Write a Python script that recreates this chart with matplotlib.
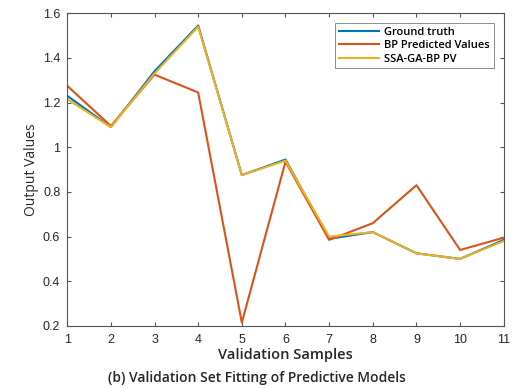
import matplotlib.pyplot as plt

## Validation set values
samples = [1, 2, 3, 4, 5, 6, 7, 8, 9, 10, 11]
ground_truth = [1.23, 1.09, 1.34, 1.545, 0.875, 0.945, 0.59, 0.62, 0.525, 0.50, 0.585]
bp_pred = [1.275, 1.095, 1.325, 1.245, 0.215, 0.935, 0.585, 0.66, 0.83, 0.54, 0.595]
ssa_pred = [1.215, 1.09, 1.33, 1.54, 0.875, 0.94, 0.60, 0.62, 0.525, 0.50, 0.58]

yticks = [0.2, 0.4, 0.6, 0.8, 1, 1.2, 1.4, 1.6]
ytick_labels = ["0.2", "0.4", "0.6", "0.8", "1", "1.2", "1.4", "1.6"]

plt.rcParams['font.family'] = ['Open Sans', 'DejaVu Sans']

fig = plt.figure(figsize=(5.13, 3.88), dpi=100)
ax = fig.add_axes([0.131, 0.160, 0.851, 0.806])

ax.plot(samples, ground_truth, color="#0072BD", linewidth=1.5, label="Ground truth")
ax.plot(samples, bp_pred, color="#D95319", linewidth=1.5, label="BP Predicted Values")
ax.plot(samples, ssa_pred, color="#EDB120", linewidth=1.5, label="SSA-GA-BP PV")

ax.set_xlim(1, 11)
ax.set_ylim(0.2, 1.6)
ax.set_xticks(samples)
ax.set_yticks(yticks)
ax.set_yticklabels(ytick_labels)
ax.tick_params(direction="in", top=True, right=True, labelsize=9, length=3,
               color="#555555", labelcolor="#262626")
ax.tick_params(axis="x", pad=6)
ax.tick_params(axis="y", pad=5)
for lbl in ax.get_xticklabels() + ax.get_yticklabels():
    lbl.set_family("Liberation Sans")
for s in ax.spines.values():
    s.set_color("#555555")
    s.set_linewidth(0.8)

ax.set_ylabel("Output Values", fontsize=10, color="#262626", labelpad=3)
ax.set_xlabel("Validation Samples", fontsize=10.5, fontweight="semibold", color="#262626", labelpad=1)
fig.text(0.5, 0.008, "(b) Validation Set Fitting of Predictive Models", ha="center",
         va="bottom", fontsize=10, fontweight="semibold", color="#262626")

leg = ax.legend(loc="upper right", fontsize=8, frameon=True, fancybox=False,
                handlelength=3.6, borderaxespad=0.9, labelspacing=0.2, borderpad=0.35,
                handletextpad=0.5)
leg.get_frame().set_edgecolor("#555555")
leg.get_frame().set_linewidth(0.6)
for t in leg.get_texts():
    t.set_fontweight("semibold")

plt.savefig("out.png", dpi=100)
